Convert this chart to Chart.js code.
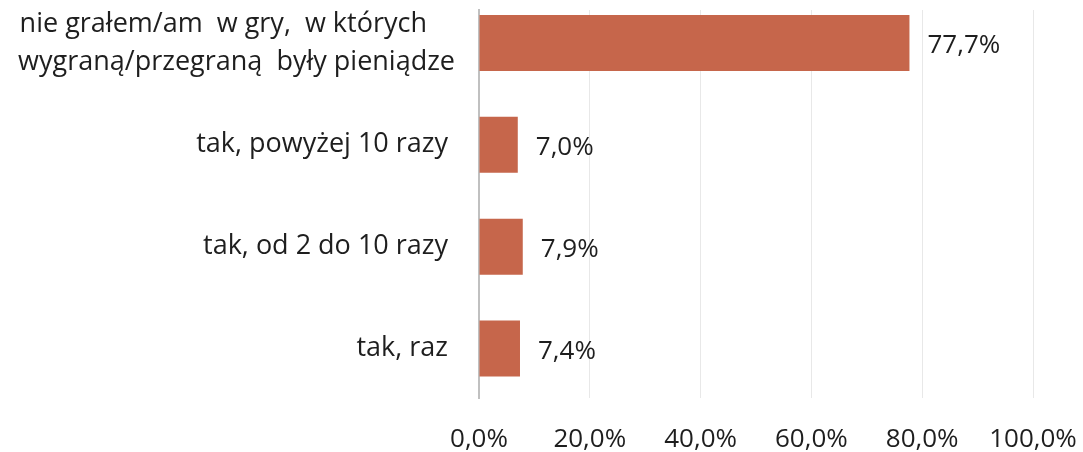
<!DOCTYPE html>
<html>
<head>
<meta charset="utf-8">
<script src="https://cdn.jsdelivr.net/npm/chart.js@4"></script>
<style>
  html, body { margin: 0; padding: 0; background: #ffffff; overflow: hidden; }
  #wrap { position: relative; width: 1083px; height: 452px; }
</style>
</head>
<body>
<div id="wrap"><canvas id="c"></canvas></div>
<script>
// ---- data ----
const categories = [
  ["nie grałem/am  w gry,  w których    ", "wygraną/przegraną  były pieniądze"],
  "tak, powyżej 10 razy ",
  "tak, od 2 do 10 razy ",
  "tak, raz "
];
const values = [77.7, 7.0, 7.9, 7.4];
const xTicks = [0, 20, 40, 60, 80, 100];

const fmtPct = v => v.toFixed(1).replace('.', ',') + '%';

const dataLabels = {
  id: 'dataLabels',
  afterDatasetsDraw(chart) {
    const ctx = chart.ctx;
    const meta = chart.getDatasetMeta(0);
    ctx.save();
    ctx.font = '26px "Open Sans"';
    ctx.fillStyle = '#1e1e1e';
    ctx.textAlign = 'left';
    ctx.textBaseline = 'middle';
    meta.data.forEach((bar, i) => {
      ctx.fillText(fmtPct(values[i]), bar.x + 18, bar.y + 3);
    });
    ctx.restore();
  }
};

new Chart(document.getElementById('c'), {
  type: 'bar',
  data: {
    datasets: [{
      data: values.map((v, i) => ({ x: v, y: i })),
      backgroundColor: '#C6664B',
      borderWidth: 0,
      barPercentage: 0.55,
      categoryPercentage: 1.0
    }]
  },
  options: {
    indexAxis: 'y',
    responsive: true,
    maintainAspectRatio: false,
    animation: false,
    layout: { padding: { top: 10, right: 50, bottom: 0, left: 0 } },
    plugins: { legend: { display: false }, tooltip: { enabled: false } },
    scales: {
      x: {
        type: 'linear',
        min: 0,
        max: 100,
        offset: false,
        afterBuildTicks: s => { s.ticks = xTicks.map(v => ({ value: v })); },
        afterFit: s => { s.height = 54; s.paddingLeft = 0; s.paddingRight = 0; },
        ticks: {
          callback: v => fmtPct(v),
          color: '#1e1e1e',
          font: { family: '"Open Sans"', size: 26 },
          padding: 26,
          maxRotation: 0,
          autoSkip: false
        },
        grid: { color: '#e8e8e8', lineWidth: 1, drawTicks: false, offset: false },
        border: { display: false }
      },
      y: {
        type: 'linear',
        reverse: true,
        offset: false,
        min: -0.323,
        max: 3.485,
        afterBuildTicks: s => { s.ticks = categories.map((_, i) => ({ value: i })); },
        afterFit: s => { s.width = 479; s.paddingTop = 0; s.paddingBottom = 0; },
        ticks: {
          callback: v => categories[v],
          color: '#1e1e1e',
          font: { family: '"Open Sans"', size: 27, lineHeight: 1.41 },
          padding: 24,
          crossAlign: 'near',
          autoSkip: false
        },
        grid: { display: false, drawTicks: false, offset: false },
        border: { display: true, color: '#c0c0c0', width: 2 }
      }
    }
  },
  plugins: [dataLabels]
});
</script>
</body>
</html>
